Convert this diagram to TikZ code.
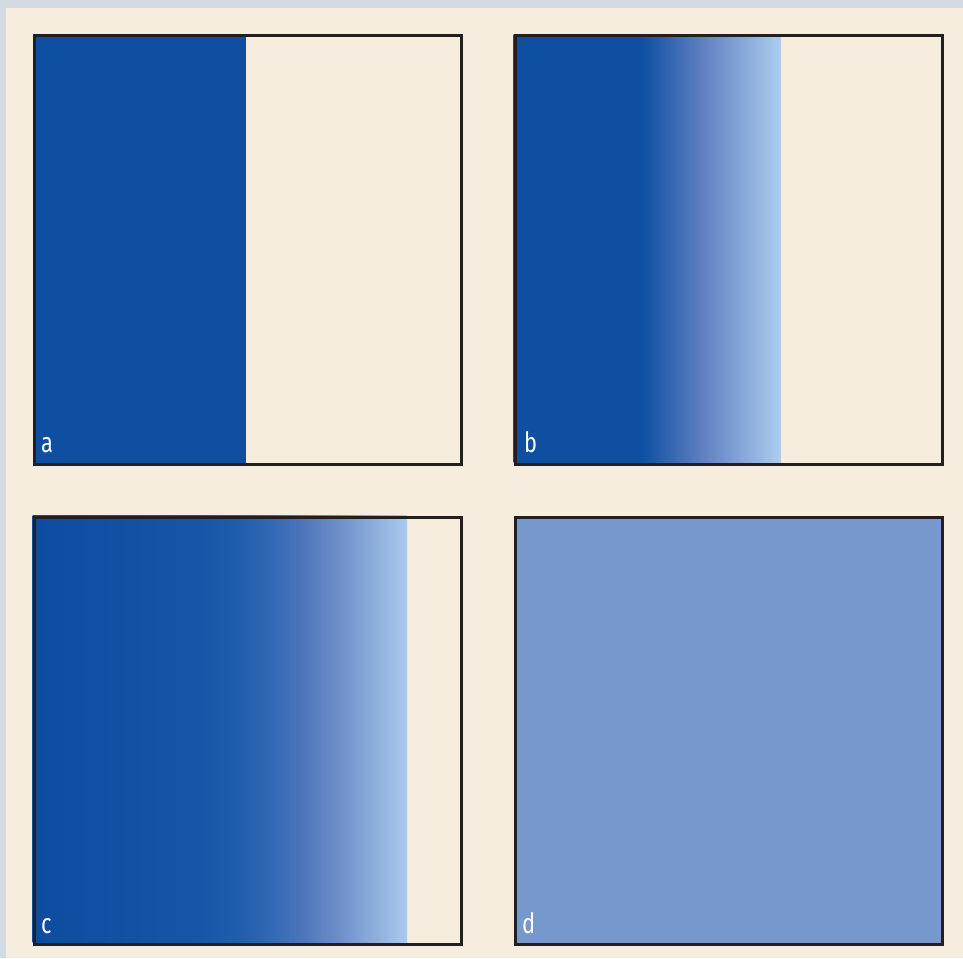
\documentclass[tikz,border=0pt]{standalone}
\usepackage{fontspec}
\newfontfamily\labelfont[FakeStretch=0.78]{Fira Sans}
\definecolor{outerbg}{HTML}{D3DAE1}
\definecolor{beige}{HTML}{F6EDDF}
\definecolor{frame}{HTML}{231F20}
\definecolor{darkblue}{HTML}{0E4FA2}
\definecolor{lightblue}{HTML}{ADCDEE}
\definecolor{midblue}{HTML}{7798CD}
\pgfdeclarehorizontalshading{shadeB}{100bp}{%
  color(0bp)=(darkblue); color(25bp)=(darkblue); color(48.6bp)=(darkblue);
  color(50.5bp)=(rgb,255:red,24;green,86;blue,166);
  color(59.9bp)=(rgb,255:red,92;green,126;blue,192); color(75bp)=(lightblue); color(100bp)=(lightblue)}
\pgfdeclarehorizontalshading{shadeC}{100bp}{%
  color(0bp)=(rgb,255:red,13;green,76;blue,160); color(25bp)=(rgb,255:red,13;green,76;blue,160);
  color(47.25bp)=(rgb,255:red,21;green,86;blue,168);
  color(52.6bp)=(rgb,255:red,31;green,94;blue,173);
  color(56.6bp)=(rgb,255:red,48;green,104;blue,179);
  color(60.7bp)=(rgb,255:red,76;green,116;blue,186);
  color(66bp)=(rgb,255:red,110;green,143;blue,202);
  color(75bp)=(rgb,255:red,170;green,203;blue,236); color(100bp)=(rgb,255:red,170;green,203;blue,236)}
\tikzset{
  panel/.style={draw=frame, line width=3pt, minimum width=427pt, inner sep=0pt, anchor=north west},
  lbl/.style={text=white, font=\labelfont\fontsize{28}{28}\selectfont, anchor=base west, inner sep=0pt}
}
\begin{document}
\begin{tikzpicture}[x=1pt,y=-1pt]
\useasboundingbox (0,0) rectangle (963,958);
\fill[outerbg] (0,0) rectangle (963,958);
\fill[beige] (6,8) rectangle (963,958);
% panel a
\fill[darkblue] (32.5,34.5) rectangle (246,462.5);
\node[panel, minimum height=428pt] (pa) at (32.5,34.5) {};
% panel b
\shade[shading=shadeB] (513.5,34.5) rectangle (781,462.5);
\node[panel, minimum height=428pt] (pb) at (513.5,34.5) {};
% panel c
\shade[shading=shadeC] (32.5,515.5) rectangle (407,942.5);
\node[panel, minimum height=427pt] (pc) at (32.5,515.5) {};
% panel d
\fill[midblue] (513.5,515.5) rectangle (940.5,942.5);
\node[panel, minimum height=427pt] (pd) at (513.5,515.5) {};
% labels
\node[lbl] (la) at (41,452) {a};
\node[lbl] (lb) at (524,452) {b};
\node[lbl] (lc) at (41,933) {c};
\node[lbl] (ld) at (522,933) {d};
\end{tikzpicture}
\end{document}
